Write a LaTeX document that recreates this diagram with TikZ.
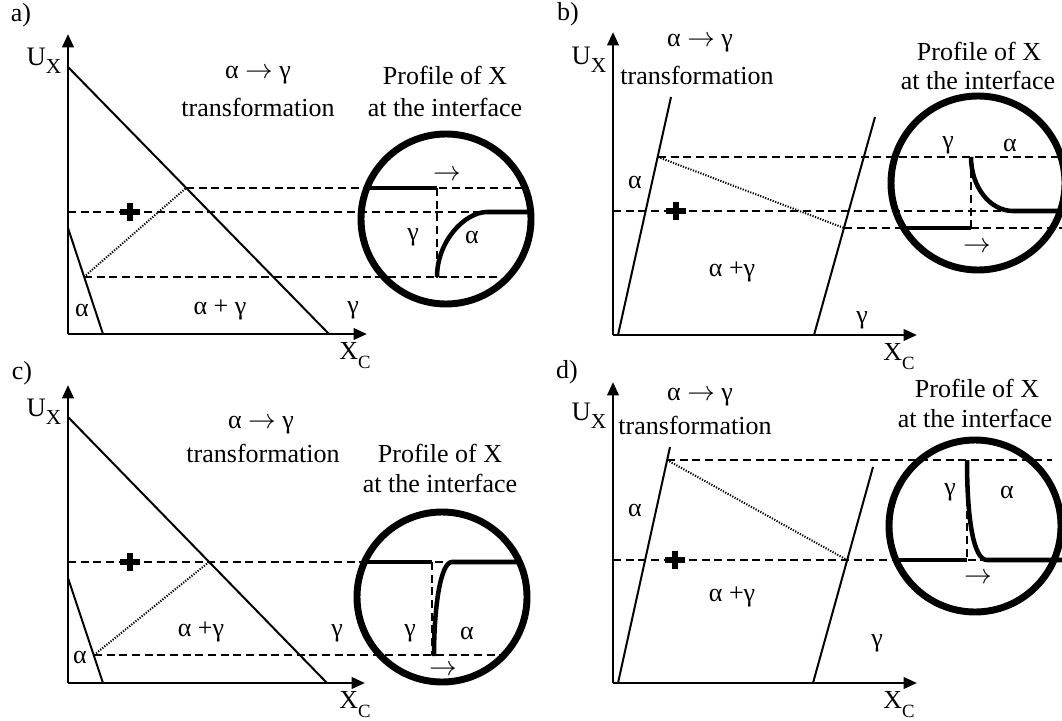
\documentclass[tikz,border=0pt]{standalone}
\usepackage{fontspec}
\setmainfont{Liberation Serif}
\usetikzlibrary{arrows.meta}
\newcommand{\capsubC}{X\raisebox{-0.35em}{\fontsize{14}{14}\selectfont C}}
\newcommand{\capsubX}{U\raisebox{-0.3em}{\fontsize{16}{16}\selectfont X}}
\newcommand{\rarr}{\ensuremath{\rightarrow}}
\tikzset{
  axisline/.style={line width=2pt,-{Triangle[length=10pt,width=8.5pt]}},
  phaseline/.style={line width=1.5pt},
  dashline/.style={line width=1.1pt,dash pattern=on 6pt off 3.5pt},
  dotline/.style={line width=1.5pt,dash pattern=on 0.9pt off 1.1pt},
  ring/.style={line width=5.2pt},
  prof/.style={line width=3.4pt},
  plusline/.style={line width=4.6pt},
  lbl/.style={inner sep=0pt,font=\fontsize{19.5}{23}\selectfont},
  ulbl/.style={inner sep=0pt,font=\fontsize{20}{22}\selectfont},
}
\begin{document}
\begin{tikzpicture}[x=0.75pt,y=-0.75pt]
\path[use as bounding box] (0,0) rectangle (1062,720);
\clip (0,0) rectangle (1062,720);
\fill[white] (0,0) rectangle (1062,720);

% ================= panel a =================
\node[lbl] (alab) at (21,15) {a)};
\coordinate (aO) at (68,334);
\coordinate (aY) at (68,34);
\coordinate (aX) at (367,334);
\draw[axisline] (aO) -- (aY);
\draw[axisline] (aO) -- (aX);
\node[ulbl] (aU) at (44,61) {\capsubX};
\node[lbl] (aXC) at (355,356) {\capsubC};
\coordinate (aD1) at (68,67);
\coordinate (aD2) at (329,334);
\coordinate (aS1) at (68,228);
\coordinate (aS2) at (103,334);
\draw[phaseline] (aD1) -- (aD2);
\draw[phaseline] (aS1) -- (aS2);
\coordinate (aT1) at (84,277);
\coordinate (aT2) at (186,188);
\draw[dotline] (aT1) -- (aT2);
\coordinate (aR1) at (529,188);
\coordinate (aM1) at (68,212);
\coordinate (aM2) at (531,212);
\coordinate (aR3) at (500,277);
\draw[dashline] (aT2) -- (aR1);
\draw[dashline] (aM1) -- (aM2);
\draw[dashline] (aT1) -- (aR3);
\draw[plusline] (120,212) -- (140,212);
\draw[plusline] (130,203) -- (130,221);
\node[draw,ring,circle,minimum size=170pt*0.75,inner sep=0pt] (acirc) at (446,219) {};
\coordinate (aI1) at (367,188);
\coordinate (aI2) at (437,188);
\coordinate (aI3) at (437,277);
\draw[prof] (aI1) -- (aI2);
\draw[dashline] (aI2) -- (aI3);
\draw[prof] (aI3) .. controls (437,241) and (465,212) .. (487,212) -- (531,212);
\node[lbl] (aarr) at (447,175) {\rarr};
\node[lbl] (agi) at (413,237) {γ};
\node[lbl] (aai) at (472,237) {α};
\node[lbl] (at1) at (258,75) {α \rarr{} γ};
\node[lbl] (at2) at (258,107) {transformation};
\node[lbl] (ap1) at (445,75) {Profile of X};
\node[lbl] (ap2) at (445,107) {at the interface};
\node[lbl] (aal) at (82,310) {α};
\node[lbl] (aag) at (220,310) {α + γ};
\node[lbl] (ag) at (353,310) {γ};

% ================= panel b =================
\node[lbl] (blab) at (568,14) {b)};
\coordinate (bO) at (613,335);
\coordinate (bY) at (613,32);
\coordinate (bX) at (917,335);
\draw[axisline] (bO) -- (bY);
\draw[axisline] (bO) -- (bX);
\node[ulbl] (bU) at (589,60) {\capsubX};
\node[lbl] (bXC) at (899,357) {\capsubC};
\coordinate (bL1) at (618,335);
\coordinate (bL2) at (671,97);
\coordinate (bR1) at (814,335);
\coordinate (bR2) at (875,117);
\draw[phaseline] (bL1) -- (bL2);
\draw[phaseline] (bR1) -- (bR2);
\coordinate (bT1) at (658,157);
\coordinate (bT2) at (844,228);
\draw[dotline] (bT1) -- (bT2);
\coordinate (bE1) at (1064,157);
\coordinate (bM1) at (613,211);
\coordinate (bE2) at (1064,211);
\coordinate (bE3) at (1064,228);
\draw[dashline] (bT1) -- (bE1);
\draw[dashline] (bM1) -- (bE2);
\draw[dashline] (bT2) -- (bE3);
\draw[plusline] (666,211) -- (686,211);
\draw[plusline] (676,202) -- (676,220);
\node[draw,ring,circle,minimum size=174pt*0.75,inner sep=0pt] (bcirc) at (978,183) {};
\coordinate (bI1) at (904,228);
\coordinate (bI2) at (971,228);
\coordinate (bI3) at (971,157);
\draw[prof] (bI1) -- (bI2);
\draw[dashline] (bI3) -- (bI2);
\draw[prof] (bI3) .. controls (971,187) and (990,211) .. (1013,211) -- (1066,211);
\node[lbl] (barr) at (977,247) {\rarr};
\node[lbl] (bgi) at (948,145) {γ};
\node[lbl] (bai) at (1010,145) {α};
\node[lbl] (bt1) at (700,43) {α \rarr{} γ};
\node[lbl] (bt2) at (697,75) {transformation};
\node[lbl] (bp1) at (979,51) {Profile of X};
\node[lbl] (bp2) at (978,80) {at the interface};
\node[lbl] (bal) at (635,182) {α};
\node[lbl] (bag) at (732,272) {α +γ};
\node[lbl] (bg) at (862,320) {γ};

% ================= panel c =================
\node[lbl] (clab) at (22,373) {c)};
\coordinate (cO) at (68,683);
\coordinate (cY) at (68,385);
\coordinate (cX) at (365,683);
\draw[axisline] (cO) -- (cY);
\draw[axisline] (cO) -- (cX);
\node[ulbl] (cU) at (44,412) {\capsubX};
\node[lbl] (cXC) at (355,705) {\capsubC};
\coordinate (cD1) at (68,417);
\coordinate (cD2) at (327,683);
\coordinate (cS1) at (68,578);
\coordinate (cS2) at (103,683);
\draw[phaseline] (cD1) -- (cD2);
\draw[phaseline] (cS1) -- (cS2);
\coordinate (cT1) at (94,655);
\coordinate (cT2) at (209,562);
\draw[dotline] (cT1) -- (cT2);
\coordinate (cM1) at (68,562);
\coordinate (cM2) at (519,562);
\coordinate (cE3) at (500,655);
\draw[dashline] (cM1) -- (cM2);
\draw[dashline] (cT1) -- (cE3);
\draw[plusline] (120,562) -- (140,562);
\draw[plusline] (130,553) -- (130,571);
\node[draw,ring,circle,minimum size=170pt*0.75,inner sep=0pt] (ccirc) at (442,597) {};
\coordinate (cI1) at (365,562);
\coordinate (cI2) at (432,562);
\coordinate (cI3) at (432,655);
\draw[prof] (cI1) -- (cI2);
\draw[dashline] (cI2) -- (cI3);
\draw[prof] (434,656) .. controls (434,604) and (441,562) .. (452,562) -- (519,562);
\node[lbl] (carr) at (443,670) {\rarr};
\node[lbl] (cgo) at (337,633) {γ};
\node[lbl] (cgi) at (410,633) {γ};
\node[lbl] (cai) at (467,633) {α};
\node[lbl] (ct1) at (261,425) {α \rarr{} γ};
\node[lbl] (ct2) at (263,453) {transformation};
\node[lbl] (cp1) at (440,453) {Profile of X};
\node[lbl] (cp2) at (440,483) {at the interface};
\node[lbl] (cal) at (80,657) {α};
\node[lbl] (cag) at (201,632) {α +γ};

% ================= panel d =================
\node[lbl] (dlab) at (567,372) {d)};
\coordinate (dO) at (613,683);
\coordinate (dY) at (613,382);
\coordinate (dX) at (917,683);
\draw[axisline] (dO) -- (dY);
\draw[axisline] (dO) -- (dX);
\node[ulbl] (dU) at (589,416) {\capsubX};
\node[lbl] (dXC) at (899,705) {\capsubC};
\coordinate (dL1) at (618,683);
\coordinate (dL2) at (670,447);
\coordinate (dR1) at (813,683);
\coordinate (dR2) at (873,467);
\draw[phaseline] (dL1) -- (dL2);
\draw[phaseline] (dR1) -- (dR2);
\coordinate (dT1) at (667,460);
\coordinate (dT2) at (847,560);
\draw[dotline] (dT1) -- (dT2);
\coordinate (dE1) at (1052,460);
\coordinate (dM1) at (613,560);
\coordinate (dE2) at (1064,560);
\draw[dashline] (dT1) -- (dE1);
\draw[dashline] (dM1) -- (dE2);
\draw[plusline] (665,560) -- (685,560);
\draw[plusline] (675,551) -- (675,569);
\node[draw,ring,circle,minimum size=172pt*0.75,inner sep=0pt] (dcirc) at (975,526) {};
\coordinate (dI1) at (897,560);
\coordinate (dI2) at (967,560);
\coordinate (dI3) at (967,460);
\draw[prof] (dI1) -- (dI2);
\draw[dashline] (dI3) -- (dI2);
\draw[prof] (dI3) .. controls (967,522) and (974,560) .. (987,560) -- (1066,560);
\node[lbl] (darr) at (978,578) {\rarr};
\node[lbl] (dgi) at (950,492) {γ};
\node[lbl] (dai) at (1007,492) {α};
\node[lbl] (dt1) at (700,397) {α \rarr{} γ};
\node[lbl] (dt2) at (695,425) {transformation};
\node[lbl] (dp1) at (977,388) {Profile of X};
\node[lbl] (dp2) at (975,418) {at the interface};
\node[lbl] (dal) at (635,510) {α};
\node[lbl] (dag) at (732,597) {α +γ};
\node[lbl] (dg) at (877,643) {γ};
\end{tikzpicture}
\end{document}
